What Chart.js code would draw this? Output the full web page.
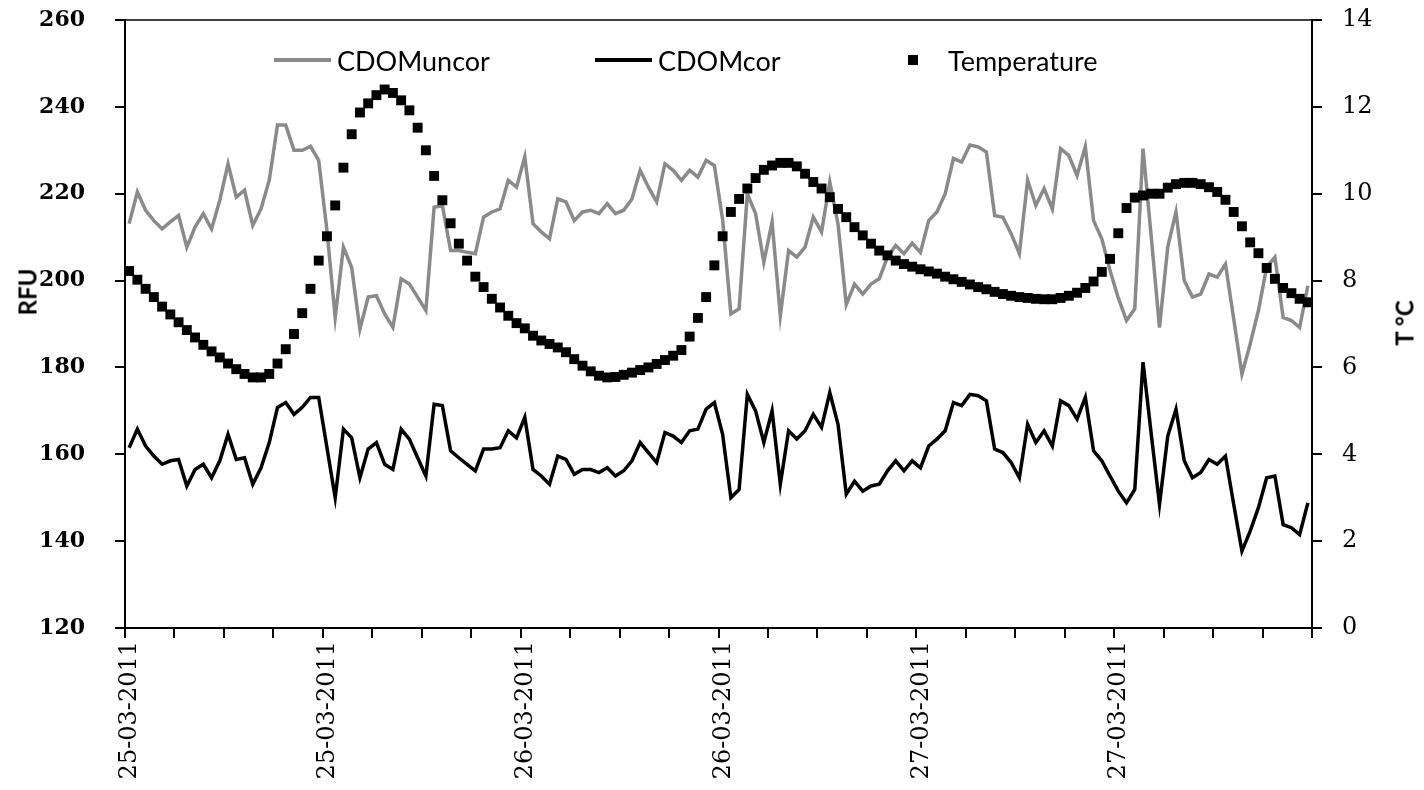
<!DOCTYPE html>
<html>
<head>
<meta charset="utf-8">
<title>CDOM and temperature, 25-27 March 2011</title>
<script src="https://cdn.jsdelivr.net/npm/chart.js@4.4.1/dist/chart.umd.min.js"></script>
<style>
  html, body { margin: 0; padding: 0; background: #fff; }
  #wrap { position: relative; width: 1424px; height: 790px; }
  #c-cdom { position: absolute; left: 0; top: 0; }
  .leg-item { position: absolute; top: 44px; height: 32px; display: flex; align-items: center;
              font-family: Lato, 'Liberation Sans', sans-serif; font-size: 27px; color: #000; white-space: nowrap; }
  .leg-line { display: inline-block; width: 57px; height: 4px; margin-right: 6px; }
  .leg-sq   { display: inline-block; width: 10px; height: 10px; background: #000; margin-right: 30px; }
  .ax-title { position: absolute; font-family: Lato, 'Liberation Sans', sans-serif; font-weight: bold;
              font-size: 24px; color: #000; white-space: nowrap; transform: translate(-50%, -50%) rotate(-90deg); }
</style>
</head>
<body>
<div id="wrap">
  <canvas id="c-cdom" width="1424" height="790"></canvas>
  <div class="leg-item" style="left:274px"><span class="leg-line" style="background:#8a8a8a"></span>CDOMuncor</div>
  <div class="leg-item" style="left:595px"><span class="leg-line" style="background:#000"></span>CDOMcor</div>
  <div class="leg-item" style="left:908px"><span class="leg-sq"></span>Temperature</div>
  <div class="ax-title" style="left:27px;top:292px">RFU</div>
  <div class="ax-title" style="left:1404px;top:323px">T °C</div>
</div>
<script>
// half-hourly samples, 25-03-2011 00:00 to 27-03-2011 23:30
const dateLabels = ['25-03-2011', '25-03-2011', '26-03-2011', '26-03-2011', '27-03-2011', '27-03-2011'];

const cdomUncor = [
  213.1, 220.4, 216.2, 213.8, 211.9, 213.5, 215.0, 207.7, 212.3, 215.4,
  211.9, 218.5, 226.9, 219.2, 220.8, 212.7, 216.5, 223.1, 235.8, 235.8,
  230.0, 230.0, 230.9, 227.7, 211.5, 191.5, 207.7, 203.0, 188.8, 196.2,
  196.5, 192.3, 189.2, 200.4, 199.2, 196.2, 193.1, 216.9, 217.3, 206.9,
  206.9, 206.5, 206.2, 214.6, 215.8, 216.5, 223.1, 221.5, 228.5, 213.1,
  211.2, 209.6, 218.8, 218.1, 213.8, 215.8, 216.2, 215.4, 217.7, 215.4,
  216.2, 218.8, 225.4, 221.5, 218.1, 226.9, 225.4, 223.1, 225.4, 223.8,
  227.7, 226.5, 214.0, 192.3, 193.5, 220.0, 215.4, 204.2, 213.5, 191.9,
  206.9, 205.4, 207.7, 214.6, 211.2, 222.7, 213.0, 194.5, 199.2, 196.9,
  199.2, 200.4, 205.4, 208.1, 206.2, 208.6, 206.5, 213.8, 215.8, 220.0,
  228.1, 227.3, 231.2, 230.8, 229.6, 215.0, 214.6, 210.8, 206.2, 223.1,
  217.3, 221.2, 216.5, 230.4, 228.8, 224.2, 230.8, 213.8, 209.6, 202.3,
  196.0, 190.8, 193.5, 230.4, 210.0, 189.2, 207.7, 215.8, 200.0, 196.2,
  196.9, 201.5, 200.8, 203.8, 191.2, 178.5, 185.4, 193.1, 203.1, 205.4,
  191.5, 190.8, 189.2, 198.8
];

const cdomCor = [
  161.5, 165.8, 161.9, 159.6, 157.7, 158.5, 158.8, 152.7, 156.5, 157.7,
  154.6, 158.5, 164.6, 158.8, 159.2, 153.1, 156.9, 162.7, 170.8, 171.9,
  169.2, 170.8, 173.1, 173.1, 161.5, 150.0, 165.8, 163.8, 154.6, 161.2,
  162.7, 157.7, 156.5, 165.8, 163.5, 159.2, 155.0, 171.5, 171.2, 160.8,
  159.2, 157.7, 156.2, 161.2, 161.2, 161.5, 165.4, 163.8, 168.5, 156.5,
  155.0, 153.1, 159.6, 158.8, 155.4, 156.5, 156.5, 155.8, 156.9, 155.0,
  156.2, 158.5, 162.7, 160.4, 158.1, 165.0, 164.2, 162.7, 165.4, 165.8,
  170.4, 171.9, 164.6, 150.0, 151.9, 173.8, 170.0, 162.7, 170.0, 153.1,
  165.4, 163.5, 165.4, 169.2, 166.2, 174.2, 166.9, 150.8, 153.8, 151.5,
  152.7, 153.1, 156.2, 158.5, 156.2, 158.5, 156.9, 161.9, 163.5, 165.4,
  171.9, 171.2, 173.8, 173.5, 172.3, 161.2, 160.4, 158.1, 154.6, 166.9,
  162.7, 165.4, 161.9, 172.3, 171.2, 168.1, 173.1, 160.8, 158.5, 155.0,
  151.5, 148.8, 151.9, 181.2, 164.6, 148.5, 164.2, 170.4, 158.5, 154.6,
  155.8, 158.8, 157.7, 159.6, 148.5, 137.7, 142.3, 147.7, 154.6, 155.0,
  143.8, 143.1, 141.5, 148.8
];

const temperature = [
  8.22, 8.02, 7.81, 7.62, 7.40, 7.22, 7.04, 6.86, 6.69, 6.52,
  6.37, 6.23, 6.09, 5.96, 5.85, 5.77, 5.77, 5.85, 6.09, 6.42,
  6.77, 7.25, 7.81, 8.46, 9.02, 9.73, 10.60, 11.37, 11.87, 12.08,
  12.27, 12.40, 12.32, 12.15, 11.92, 11.52, 11.00, 10.41, 9.85, 9.32,
  8.85, 8.46, 8.09, 7.85, 7.58, 7.38, 7.19, 7.02, 6.90, 6.73,
  6.62, 6.54, 6.46, 6.35, 6.19, 6.04, 5.91, 5.81, 5.77, 5.78,
  5.83, 5.88, 5.94, 6.00, 6.08, 6.17, 6.27, 6.40, 6.71, 7.14,
  7.62, 8.35, 9.02, 9.58, 9.88, 10.12, 10.36, 10.55, 10.65, 10.71,
  10.71, 10.63, 10.46, 10.27, 10.12, 9.92, 9.65, 9.46, 9.23, 9.04,
  8.85, 8.69, 8.58, 8.46, 8.38, 8.32, 8.26, 8.21, 8.16, 8.09,
  8.03, 7.97, 7.91, 7.85, 7.80, 7.74, 7.69, 7.65, 7.62, 7.60,
  7.58, 7.57, 7.57, 7.60, 7.65, 7.72, 7.83, 7.98, 8.20, 8.50,
  9.09, 9.67, 9.91, 9.96, 10.00, 10.00, 10.14, 10.22, 10.25, 10.25,
  10.22, 10.15, 10.04, 9.86, 9.58, 9.25, 8.88, 8.63, 8.29, 8.04,
  7.83, 7.71, 7.58, 7.50
];

const pts = arr => arr.map((v, i) => ({ x: i, y: v }));
const tickFont = { family: "'DejaVu Serif', serif", size: 24 };

// fixed axis boxes; drop the label overhang so the plot starts at the layout padding
const fitY = w => s => { s.width = w; s.paddingTop = 0; s.paddingBottom = 0; };

// thin line along the top of the plot area
const plotFrame = {
  id: 'plotFrame',
  afterDraw(chart) {
    const { ctx, chartArea: a } = chart;
    ctx.save();
    ctx.strokeStyle = '#000';
    ctx.lineWidth = 1.5;
    ctx.beginPath();
    ctx.moveTo(a.left, a.top);
    ctx.lineTo(a.right, a.top);
    ctx.stroke();
    ctx.restore();
  }
};

new Chart(document.getElementById('c-cdom'), {
  type: 'line',
  data: {
    datasets: [
      { label: 'Temperature', data: pts(temperature), yAxisID: 'yT', showLine: false,
        pointStyle: 'rect', pointRadius: 7, pointBorderWidth: 0,
        pointBackgroundColor: '#000', pointBorderColor: '#000', order: 0 },
      { label: 'CDOMuncor', data: pts(cdomUncor), yAxisID: 'y', borderColor: '#8a8a8a',
        borderWidth: 3.5, pointRadius: 0, tension: 0, order: 1 },
      { label: 'CDOMcor', data: pts(cdomCor), yAxisID: 'y', borderColor: '#000',
        borderWidth: 3.5, pointRadius: 0, tension: 0, order: 2 },
    ]
  },
  options: {
    responsive: false,
    animation: false,
    layout: { padding: { top: 20, left: 0, right: 0, bottom: 0 } },
    plugins: { legend: { display: false }, tooltip: { enabled: false } },
    scales: {
      x: {
        type: 'linear', min: -0.5, max: cdomUncor.length - 0.5,
        afterFit: s => { s.height = 162; s.paddingLeft = 0; s.paddingRight = 0; },
        border: { display: true, color: '#000', width: 2 },
        grid: { drawOnChartArea: false, drawTicks: true, tickLength: 10, color: '#000', lineWidth: 2 },
        ticks: {
          stepSize: 6, autoSkip: false, maxRotation: 90, minRotation: 90,
          padding: 3, labelOffset: 5, color: '#000', font: tickFont,
          callback: (v, i) => (i % 4 === 0 ? (dateLabels[i / 4] || '') : '')
        }
      },
      y: {
        position: 'left', min: 120, max: 260,
        afterFit: fitY(125),
        border: { display: true, color: '#000', width: 2 },
        grid: { drawOnChartArea: false, tickLength: 10, color: '#000', lineWidth: 2 },
        ticks: { stepSize: 20, padding: 30, color: '#000', font: { ...tickFont, size: 22, weight: 'bold' } }
      },
      yT: {
        position: 'right', min: 0, max: 14,
        afterFit: fitY(112),
        border: { display: true, color: '#000', width: 2 },
        grid: { drawOnChartArea: false, tickLength: 10, color: '#000', lineWidth: 2 },
        ticks: { stepSize: 2, padding: 20, color: '#000', font: tickFont }
      }
    }
  },
  plugins: [plotFrame]
});
</script>
</body>
</html>
